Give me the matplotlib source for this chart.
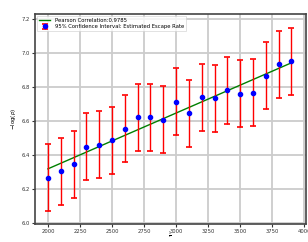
import numpy as np
import matplotlib
matplotlib.use('Agg')
import matplotlib.pyplot as plt

# inverse noise level and estimated -log(escape rate)
invNoise = [2000, 2100, 2200, 2300, 2400, 2500, 2600, 2700, 2800, 2900,
            3000, 3100, 3200, 3300, 3400, 3500, 3600, 3700, 3800, 3900]
logRate = [6.265, 6.302, 6.343, 6.447, 6.459, 6.486, 6.555, 6.622, 6.622, 6.608,
           6.712, 6.644, 6.738, 6.732, 6.781, 6.761, 6.767, 6.867, 6.934, 6.951]
ciHalf = [0.198, 0.198, 0.198, 0.198, 0.198, 0.198, 0.198, 0.198, 0.198, 0.198,
          0.198, 0.198, 0.198, 0.198, 0.198, 0.198, 0.198, 0.198, 0.198, 0.198]
pearson = 0.9785

x = np.array(invNoise)
y = np.array(logRate)
slope, intercept = np.polyfit(x, y, 1)

plt.rcParams['font.size'] = 4

fig = plt.figure(figsize=(3.08, 2.42), dpi=100)
ax = fig.add_axes([0.114, 0.073, 0.878, 0.869])

ax.grid(True, color='#cccccc', linewidth=1.3, zorder=0)
ax.set_axisbelow(True)

ax.plot(x, slope * x + intercept, color='g', linewidth=1,
        label=f'Pearson Correlation:{pearson}', zorder=3)
ax.errorbar(x, y, yerr=ciHalf, fmt='o', color='b', markersize=3,
            ecolor='red', elinewidth=1, capsize=2.2, capthick=1.2,
            label='95% Confidence Interval: Estimated Escape Rate', zorder=4)

ax.set_xlim(1900, 4010)
ax.set_ylim(5.99, 7.23)
ax.set_xticks([2000, 2250, 2500, 2750, 3000, 3250, 3500, 3750, 4000])
ax.set_yticks([6.0, 6.2, 6.4, 6.6, 6.8, 7.0, 7.2])
ax.tick_params(length=2, width=0.8, pad=1.5, labelsize=3.8, colors='#333333')

for s in ax.spines.values():
    s.set_color('#444444')
    s.set_linewidth(1.2)

ax.set_xlabel(r'$\frac{1}{\epsilon}$', fontsize=3.0, va='bottom')
ax.xaxis.set_label_coords(0.5, -0.08)
ax.set_ylabel(r'$-\log(p)$', fontsize=4, labelpad=3)

leg = ax.legend(loc='upper left', fontsize=3.8, handlelength=2.2,
                borderpad=0.4, labelspacing=0.3, borderaxespad=0.3, fancybox=False)
leg.get_frame().set_linewidth(0.5)

fig.savefig('out.png', dpi=100)
